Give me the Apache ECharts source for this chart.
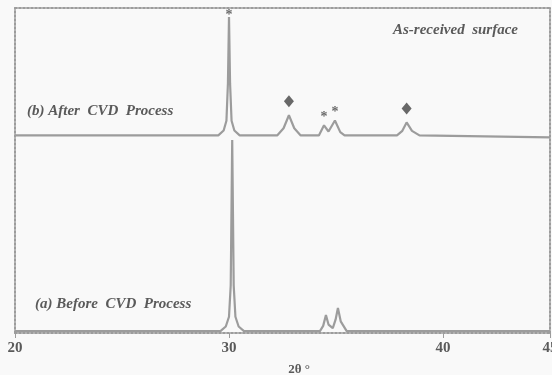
<!DOCTYPE html>
<html>
<head>
<meta charset="utf-8">
<script src="https://cdn.jsdelivr.net/npm/echarts@6/dist/echarts.min.js"></script>
<style>
  html, body { margin: 0; padding: 0; background: #f9f9f9; }
  #chart { width: 552px; height: 375px; }
</style>
</head>
<body>
<div id="chart"></div>
<script>
// 2θ tick labels
const xTicks = [20, 30, 40, 45];

// (a) Before CVD Process: [2θ, intensity above its baseline]
const beforeCvd = [
  [20, 0], [29.6, 0], [29.85, 1.4], [30.0, 4.4], [30.08, 14], [30.15, 58.8],
  [30.22, 14], [30.3, 4.4], [30.45, 1.4], [30.7, 0],
  [34.25, 0], [34.4, 1.6], [34.53, 4.9], [34.65, 2.0], [34.85, 0.9],
  [34.98, 3.5], [35.09, 7.1], [35.22, 3.0], [35.5, 0], [45, 0]
];

// (b) After CVD Process
const afterCvd = [
  [20, 0], [29.5, 0], [29.75, 1.5], [29.88, 4.5], [29.95, 16], [30.0, 36.4],
  [30.05, 16], [30.12, 4.5], [30.25, 1.5], [30.5, 0],
  [32.25, 0], [32.55, 2.2], [32.8, 6.2], [33.05, 2.2], [33.35, 0],
  [34.2, 0], [34.44, 3.1], [34.65, 1.2], [34.95, 4.6], [35.2, 1.0], [35.4, 0],
  [37.85, 0], [38.1, 1.4], [38.3, 4.0], [38.55, 1.4], [38.9, 0], [45, -0.6]
];

// baselines of the two stacked patterns
const offsets = { before: 0.6, after: 60.8 };

// peak markers on (b)
const starPeaks = [[34.44, 3.1], [34.95, 4.6]];
const mainStar = [[30.0, 36.4]];
const diamondPeaks = [[32.8, 6.2], [38.3, 4.0]];

const shift = (arr, off) => arr.map(p => [p[0], p[1] + off]);

const lineColor = '#9c9c9c';
const textColor = '#5a5a5a';
const serif = '"Liberation Serif", "DejaVu Serif", serif';

const chart = echarts.init(document.getElementById('chart'));
chart.setOption({
  backgroundColor: '#f9f9f9',
  animation: false,
  grid: { left: 15, right: 2, top: 8, bottom: 42, outerBoundsMode: 'none' },
  xAxis: [{
    type: 'value',
    min: 20,
    max: 45,
    interval: 5,
    name: '2θ °',
    nameLocation: 'middle',
    nameGap: 30,
    nameTextStyle: { fontFamily: serif, fontWeight: 'bold', fontSize: 13, color: textColor, padding: [0, 0, 0, 33] },
    axisLine: { lineStyle: { color: lineColor, width: 2, type: 'dotted' } },
    axisTick: { customValues: xTicks, length: 5, inside: false, lineStyle: { color: lineColor } },
    axisLabel: { customValues: xTicks, fontFamily: serif, fontWeight: 'bold', fontSize: 15, color: textColor, margin: 8 },
    splitLine: { show: false }
  }, {
    type: 'value',
    position: 'top',
    min: 20,
    max: 45,
    axisLine: { onZero: false, lineStyle: { color: lineColor, width: 2, type: 'dotted' } },
    axisTick: { show: false },
    axisLabel: { show: false },
    splitLine: { show: false }
  }],
  yAxis: [{
    type: 'value',
    min: 0,
    max: 100,
    axisLine: { show: true, lineStyle: { color: lineColor, width: 2, type: 'dotted' } },
    axisTick: { show: false },
    axisLabel: { show: false },
    splitLine: { show: false }
  }, {
    type: 'value',
    position: 'right',
    min: 0,
    max: 100,
    axisLine: { show: true, lineStyle: { color: lineColor, width: 2, type: 'dotted' } },
    axisTick: { show: false },
    axisLabel: { show: false },
    splitLine: { show: false }
  }],
  series: [
    {
      type: 'line',
      data: shift(beforeCvd, offsets.before),
      symbol: 'none',
      lineStyle: { color: lineColor, width: 2.2 }
    },
    {
      type: 'line',
      data: shift(afterCvd, offsets.after),
      symbol: 'none',
      lineStyle: { color: lineColor, width: 2.2 }
    },
    {
      type: 'scatter',
      data: shift(starPeaks, offsets.after),
      symbolSize: 0,
      label: {
        show: true, formatter: '*', position: 'top', distance: 1,
        color: '#444', fontSize: 14, fontWeight: 'bold', fontFamily: serif
      }
    },
    {
      type: 'scatter',
      data: shift(mainStar, offsets.after),
      symbolSize: 0,
      label: {
        show: true, formatter: '*', position: 'inside', offset: [0, -2],
        color: '#444', fontSize: 14, fontWeight: 'bold', fontFamily: serif
      }
    },
    {
      type: 'scatter',
      data: shift(diamondPeaks, offsets.after),
      symbol: 'diamond',
      symbolSize: [10, 12],
      symbolOffset: [0, -14],
      itemStyle: { color: '#444' }
    }
  ],
  graphic: [
    {
      type: 'text', left: 27, top: 104,
      style: { text: '(b) After  CVD  Process', font: 'italic bold 15px ' + serif, fill: textColor }
    },
    {
      type: 'text', left: 393, top: 23,
      style: { text: 'As-received  surface', font: 'italic bold 15px ' + serif, fill: textColor }
    },
    {
      type: 'text', left: 35, top: 297,
      style: { text: '(a) Before  CVD  Process', font: 'italic bold 15px ' + serif, fill: textColor }
    }
  ]
});
</script>
</body>
</html>
